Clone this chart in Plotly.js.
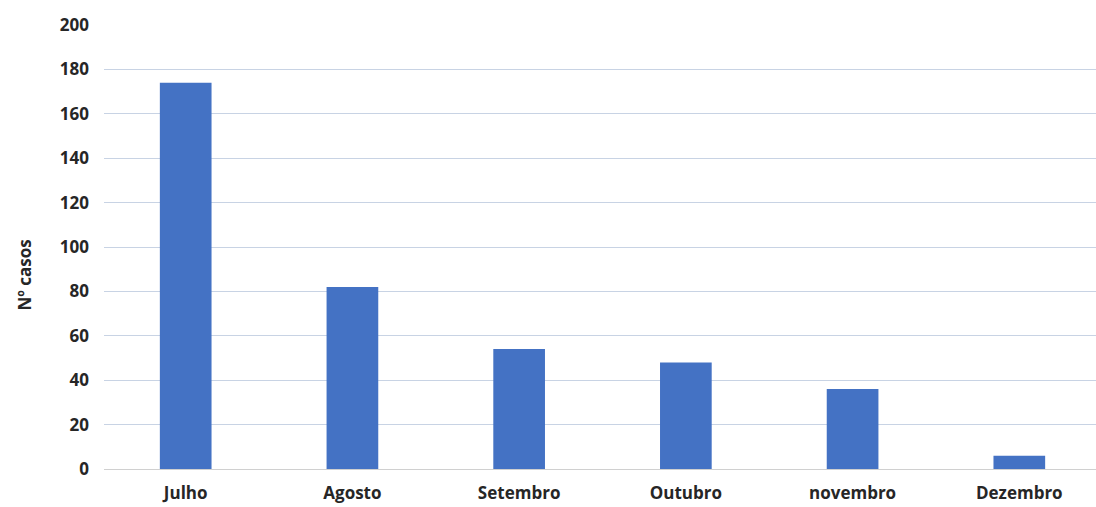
<!DOCTYPE html>
<html>
<head>
<meta charset="utf-8">
<script src="https://cdn.plot.ly/plotly-3.0.1.min.js"></script>
<style>html,body{margin:0;padding:0;background:#fff;}#chart{width:1096px;height:507px;}</style>
</head>
<body>
<div id="chart"></div>
<script>
var categories = ["Julho", "Agosto", "Setembro", "Outubro", "novembro", "Dezembro"];
var casos = [174, 82, 54, 48, 36, 6];
var yTicks = [0, 20, 40, 60, 80, 100, 120, 140, 160, 180, 200];
var yAxisTitle = "Nº casos";

var trace = {
  type: "bar",
  x: categories,
  y: casos,
  marker: {color: "#4472C4"},
  hoverinfo: "x+y"
};

var fam = "'Open Sans', Lato, sans-serif";

var layout = {
  width: 1096,
  height: 507,
  margin: {l: 104, r: 0, t: 25, b: 38},
  paper_bgcolor: "#ffffff",
  plot_bgcolor: "#ffffff",
  bargap: 0.69,
  showlegend: false,
  font: {family: fam, color: "#262626"},
  xaxis: {
    type: "category",
    range: [-0.49, 5.46],
    showgrid: false,
    showline: false,
    zeroline: false,
    ticks: "",
    ticklabelstandoff: 12,
    tickfont: {size: 17, weight: "bold", color: "#262626", family: fam},
    fixedrange: true
  },
  yaxis: {
    range: [0, 200],
    tickvals: yTicks,
    ticktext: yTicks.map(String),
    showgrid: true,
    gridcolor: "#c8d3e4",
    gridwidth: 1,
    zeroline: true,
    zerolinecolor: "#d0d0d0",
    zerolinewidth: 1,
    showline: false,
    ticks: "",
    ticklabelstandoff: 14,
    tickfont: {size: 17, weight: "bold", color: "#262626", family: fam},
    fixedrange: true
  },
  annotations: [{
    text: yAxisTitle,
    xref: "paper", yref: "paper",
    x: -0.08, y: 0.437,
    xanchor: "center", yanchor: "middle",
    textangle: -90,
    showarrow: false,
    font: {size: 17, weight: "bold", color: "#262626", family: fam}
  }]
};

Plotly.newPlot("chart", [trace], layout, {displayModeBar: false, staticPlot: true});
</script>
</body>
</html>
